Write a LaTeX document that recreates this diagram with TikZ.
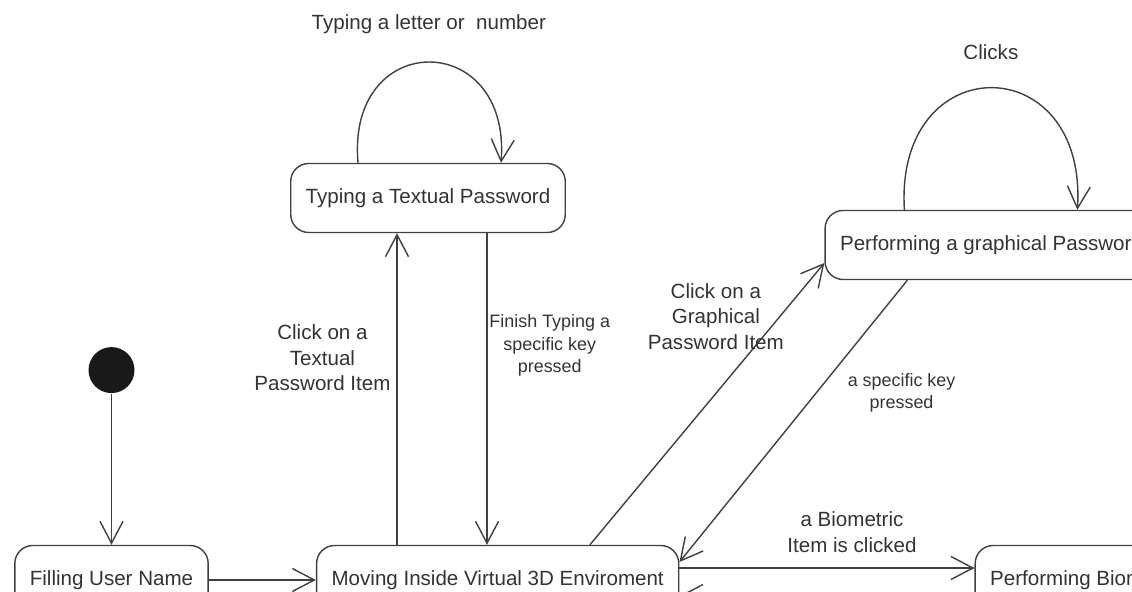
\documentclass[tikz,border=0pt]{standalone}
\usepackage{fontspec}
\setmainfont{Liberation Sans}
\usetikzlibrary{arrows.meta, positioning}
\definecolor{linegray}{HTML}{404040}
\definecolor{textgray}{HTML}{333333}

\begin{document}
\begin{tikzpicture}[
            > = {Straight Barb[length=4.4mm, width=4.6mm]}, % open arrow head
            line width = 0.8pt, % line style
            color = linegray,
            text = textgray,
            font = \fontsize{11.7}{14.5}\selectfont,
        ]
 \tikzstyle{statebox}=[
             shape = rectangle,
             rounded corners = 0.36cm,
             draw = linegray,
             fill = white,
             inner xsep = 0.3cm,
             minimum height = 1.38cm
        ]
 \tikzstyle{initdot}=[
             shape = circle,
             fill = black!90,
             inner sep = 0pt,
             minimum size = 0.92cm
        ]
 \tikzstyle{smalllabel}=[font=\fontsize{10.2}{13}\selectfont]
\useasboundingbox (0,0) rectangle (22.64,11.84);
\clip (0,0) rectangle (22.64,11.84);
% states
\node[statebox] (fill) at (2.23,0.24) {Filling User Name};
\node[statebox, right=2.14cm of fill] (move) {Moving Inside Virtual 3D Enviroment};
\node[statebox, right=5.9cm of move] (bio) {Performing Biometric Password};
\node[initdot, above=3.02cm of fill] (init) {};
\node[statebox] (typ) at (8.56,7.88) {Typing a Textual Password};
\node[statebox] (graph) at (19.83,6.94) {Performing a graphical Password};
% connector ends
\coordinate (t1) at ([xshift=2.14cm]typ.south west);
\coordinate (t2) at ([xshift=3.94cm]typ.south west);
\coordinate (g1) at ([xshift=5.48cm]move.north west);
\coordinate (g2) at ([xshift=1.66cm]graph.south west);
\coordinate (tl) at ([xshift=1.36cm]typ.north west);
\coordinate (tr) at ([xshift=4.22cm]typ.north west);
\coordinate (gl) at ([xshift=1.6cm]graph.north west);
\coordinate (gr) at ([xshift=5.06cm]graph.north west);
% transitions
\path[->] (init) edge (fill);
\path[->] (fill) edge (move);
\path[->] (move.north -| t1) edge node[left, pos=0.6, align=center] {Click on a\\Textual\\Password Item} (t1);
\path[->] (t2) edge node[right, inner xsep=1pt, pos=0.36, align=center, smalllabel] {Finish Typing a\\specific key\\pressed} (move.north -| t2);
\path[->] (g1) edge node[pos=0.81, xshift=-1.28cm, align=center] {Click on a\\Graphical\\Password Item} ([yshift=-0.36cm]graph.west);
\path[->] (g2) edge node[pos=0.4, right=0.5cm, align=center, smalllabel] {a specific key\\pressed} ([yshift=0.36cm]move.east);
\path[->] ([yshift=0.24cm]move.east) edge node[above=0.18cm, xshift=0.5cm, align=center] {a Biometric\\Item is clicked} ([yshift=0.24cm]bio.west);
\path[->] ([yshift=-0.32cm]bio.west) edge ([yshift=-0.32cm]move.east);
% self loops
\draw[->] (tl) .. controls +(-0.24,2.68) and +(0.2,2.68) .. (tr) node[pos=0.5, above=0.43cm] {Typing a letter or\ \ number};
\draw[->] (gl) .. controls +(-0.2,3.25) and +(0.2,3.25) .. (gr) node[pos=0.5, above=0.43cm] {Clicks};
\end{tikzpicture}
\end{document}
